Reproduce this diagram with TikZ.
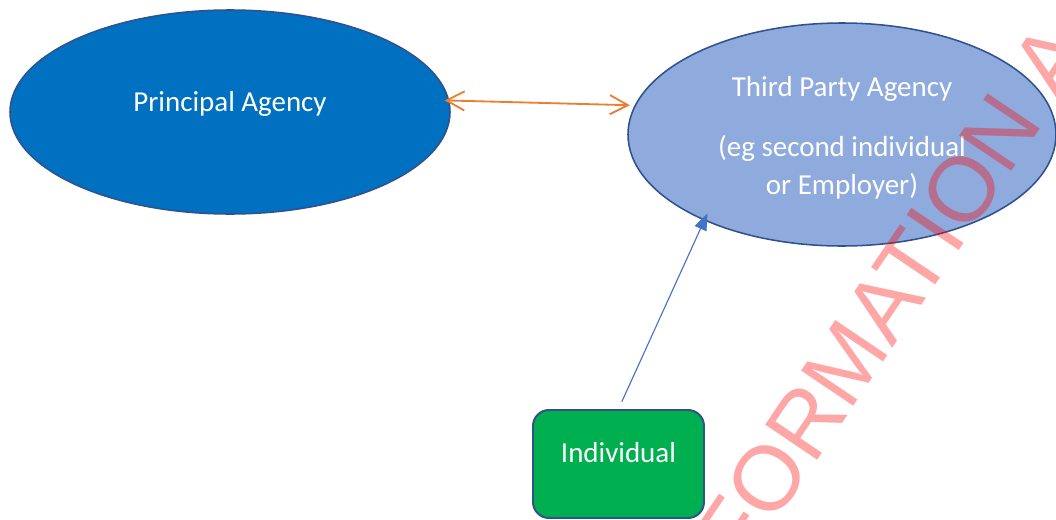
\documentclass[tikz,border=0pt]{standalone}
\usepackage{fontspec}
\setmainfont{Carlito}
\newfontfamily\stampfont{Liberation Sans}
\usepackage{tikz}
\usetikzlibrary{
  arrows.meta,
  shapes.geometric,
  positioning
}
\definecolor{agDark}{HTML}{0070C0}
\definecolor{agLight}{HTML}{8FAADC}
\definecolor{agEdge}{HTML}{2F528F}
\definecolor{agGreen}{HTML}{00B050}
\definecolor{agOrange}{HTML}{ED7D31}
\definecolor{agBlue}{HTML}{4472C4}
\tikzset{
  agency/.style={
    draw=agEdge, ellipse, line width=1.1pt, inner sep=0pt
  },
  person/.style={
    draw=agEdge, fill=agGreen, line width=1.4pt, rounded corners=0.4cm,
    minimum width=4.275cm, minimum height=2.7cm
  },
  lbl/.style={text=white, font=\fontsize{20.6}{27}\selectfont, align=center, inner sep=0pt},
  link/.style={
    {Straight Barb[length=0.45cm, width=0.48cm]}-{Straight Barb[length=0.45cm, width=0.48cm]},
    line width=1.3pt, agOrange
  },
  feed/.style={-{Triangle[length=0.42cm, width=0.32cm]}, line width=0.8pt, agBlue},
  stamp/.style={text=red, text opacity=0.35, font=\stampfont\fontsize{65}{65}\selectfont, inner sep=0pt}
}

\begin{document}
\begin{tikzpicture}
  \path[use as bounding box, clip] (0,0) rectangle (26.4,12.975);

  % the two agencies
  \node[agency, fill=agDark, minimum width=11cm, minimum height=5.1cm] (principal) at (5.75,10.175) {};
  \node[agency, fill=agLight, minimum width=10.7cm, minimum height=5.575cm] (third) at (21.05,9.6125) {};

  \node[lbl] (principal-txt) at ([yshift=0.2cm]principal.center) {Principal Agency};
  \node[lbl] (third-txt) at ([yshift=-0.075cm]third.center) {Third Party Agency\\[15.7pt](eg second individual\\or Employer)};

  % watermark across the page
  \node[stamp, rotate=56, anchor=base west] (mark) at (17.27,-3.225) {INFORMATION A};

  % the individual
  \node[person] (individual) at (15.4625,1.375) {};
  \node[lbl] (individual-txt) at ([yshift=0.275cm]individual.center) {Individual};

  % connectors
  \draw[link, shorten <=-0.12cm, shorten >=0.12cm] (principal.3) -- (third.172);
  \draw[feed, shorten <=0.2cm, shorten >=-0.2cm] (individual.north) -- (third.212);
\end{tikzpicture}
\end{document}
